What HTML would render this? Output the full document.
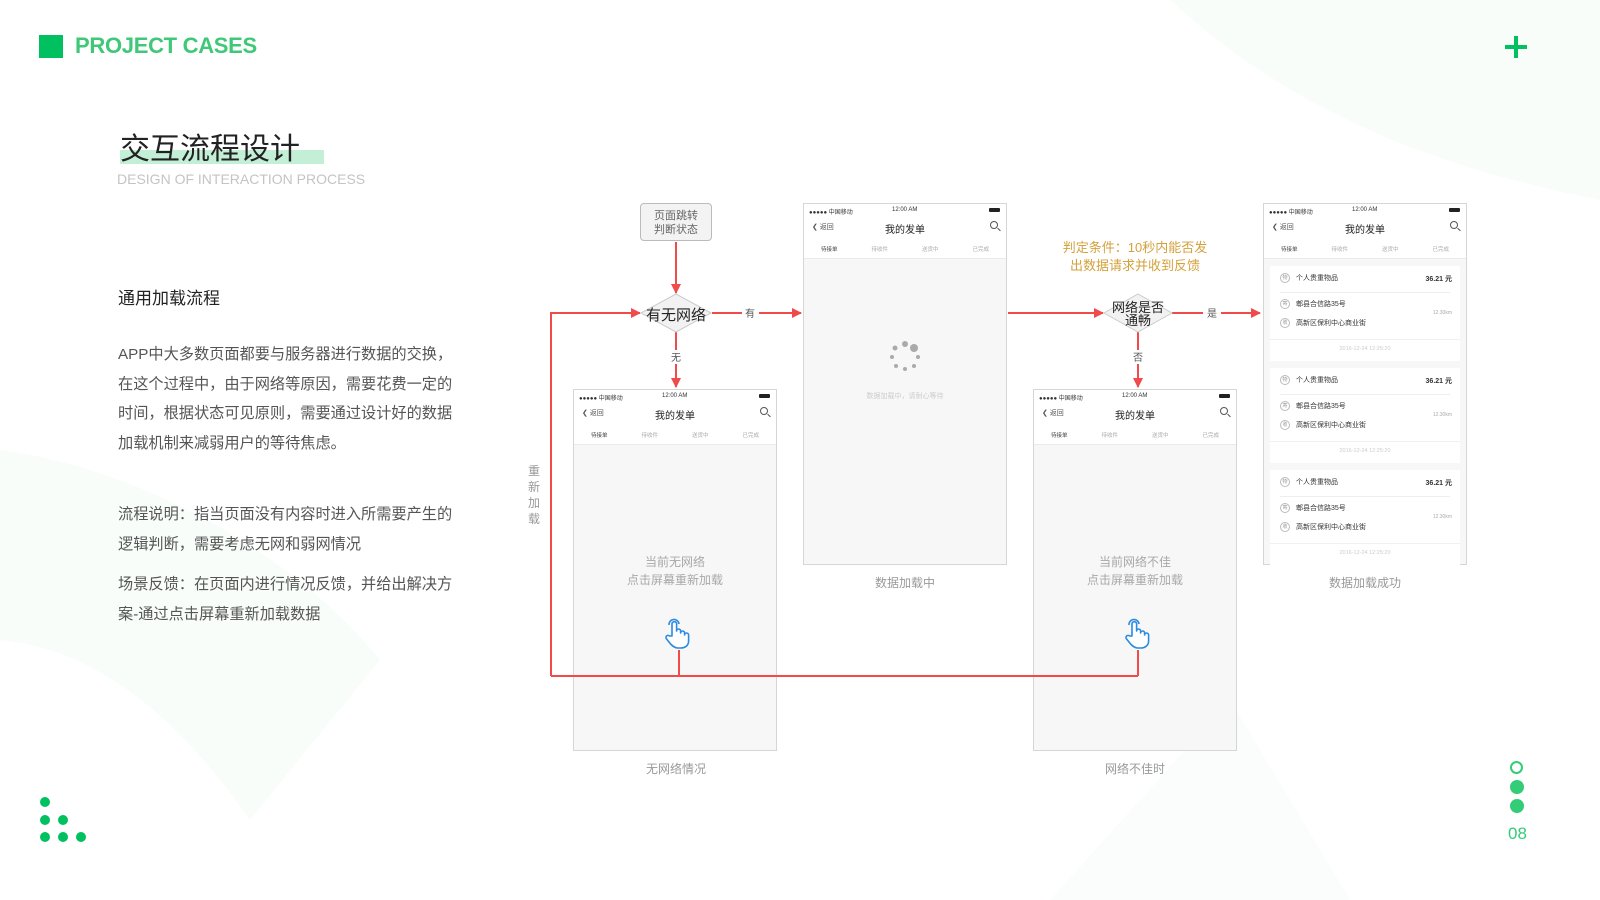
<!DOCTYPE html>
<html><head><meta charset="utf-8">
<style>
*{margin:0;padding:0;box-sizing:border-box}
body{width:1600px;height:900px;overflow:hidden;background:#fff;font-family:"Liberation Sans","Noto Sans CJK SC",sans-serif;position:relative}
.a{position:absolute}
.ph{position:absolute;width:204px;height:362px;border:1px solid #d6d6d6;background:#f7f7f7}
.ph .hd{position:absolute;left:0;top:0;right:0;height:55px;background:#fff;border-bottom:1px solid #eaeaea}
.sb{position:absolute;top:3px;font-size:6px;color:#333;white-space:nowrap}
.nav{position:absolute;top:17px;width:100%;text-align:center;font-size:10px;color:#222}
.back{position:absolute;left:8px;top:18px;font-size:7px;color:#555}
.srch{position:absolute;right:8px;top:17px;width:8px;height:8px;border:1px solid #555;border-radius:50%}
.srch:after{content:"";position:absolute;width:4px;height:1px;background:#555;right:-4px;bottom:-2px;transform:rotate(45deg)}
.tabs{position:absolute;top:41px;left:0;right:0;display:flex;font-size:5.5px;color:#aaa}
.tabs span{flex:1;text-align:center}
.tabs span:first-child{color:#444}
.bat{position:absolute;right:6px;top:4px;width:11px;height:4px;background:#222;border-radius:1px}
.msg{position:absolute;width:100%;text-align:center;color:#a8a8a8;font-size:12px;line-height:18px}
.cap{position:absolute;font-size:12px;color:#999;text-align:center;width:200px}
.card{position:absolute;left:6px;right:6px;height:95px;background:#fff}
.card .r{position:absolute;font-size:7px;color:#333;white-space:nowrap}
.ci{display:inline-block;width:10px;height:10px;border:1px solid #bbb;border-radius:50%;font-size:5px;color:#999;text-align:center;line-height:8px;margin-right:6px;vertical-align:middle}
.body{font-size:15.2px;color:#555;line-height:29.5px}
</style></head><body>
<svg class="a" style="left:0;top:0" width="1600" height="900">
<path d="M0 450 C 150 470 300 560 380 660 L 250 820 C 180 720 100 650 0 640 Z" fill="#f4fbf6" opacity="0.6"/>
<path d="M1170 0 L1600 0 L1600 200 C 1450 170 1300 120 1170 0 Z" fill="#f5fbf7" opacity="0.6"/>
<path d="M1050 900 L1230 700 L1350 900 Z" fill="#f6fbf8" opacity="0.5"/>
</svg>

<div class="a" style="left:39px;top:35px;width:24px;height:23px;background:#00c060"></div>
<div class="a" style="left:75px;top:33px;font-size:22px;font-weight:bold;color:#3ec878;letter-spacing:-0.3px">PROJECT CASES</div>
<div class="a" style="left:1505px;top:45px;width:22px;height:4px;background:#00c060"></div>
<div class="a" style="left:1514px;top:36px;width:4px;height:22px;background:#00c060"></div>

<div class="a" style="left:120px;top:150px;width:204px;height:14px;background:#c4efd7"></div>
<div class="a" style="left:120px;top:130px;font-size:30px;color:#222;line-height:40px">交互流程设计</div>
<div class="a" style="left:117px;top:171px;font-size:14px;color:#c4c4c4">DESIGN OF INTERACTION PROCESS</div>

<div class="a" style="left:118px;top:284px;font-size:17px;color:#222">通用加载流程</div>
<div class="a body" style="left:118px;top:340px;width:370px">APP中大多数页面都要与服务器进行数据的交换，<br>在这个过程中，由于网络等原因，需要花费一定的<br>时间，根据状态可见原则，需要通过设计好的数据<br>加载机制来减弱用户的等待焦虑。</div>
<div class="a body" style="left:118px;top:500px;width:370px">流程说明：指当页面没有内容时进入所需要产生的<br>逻辑判断，需要考虑无网和弱网情况</div>
<div class="a body" style="left:118px;top:570px;width:370px">场景反馈：在页面内进行情况反馈，并给出解决方<br>案-通过点击屏幕重新加载数据</div>

<div class="a" style="left:40px;top:797px;width:10px;height:10px;border-radius:50%;background:#00c060"></div>
<div class="a" style="left:40px;top:815px;width:10px;height:10px;border-radius:50%;background:#00c060"></div>
<div class="a" style="left:58px;top:815px;width:10px;height:10px;border-radius:50%;background:#00c060"></div>
<div class="a" style="left:40px;top:832px;width:10px;height:10px;border-radius:50%;background:#00c060"></div>
<div class="a" style="left:58px;top:832px;width:10px;height:10px;border-radius:50%;background:#00c060"></div>
<div class="a" style="left:76px;top:832px;width:10px;height:10px;border-radius:50%;background:#00c060"></div>
<div class="a" style="left:1510px;top:761px;width:13px;height:13px;border-radius:50%;border:2px solid #33cc77"></div>
<div class="a" style="left:1510px;top:780px;width:14px;height:14px;border-radius:50%;background:#33cc77"></div>
<div class="a" style="left:1510px;top:799px;width:14px;height:14px;border-radius:50%;background:#33cc77"></div>
<div class="a" style="left:1508px;top:824px;font-size:17px;color:#33cc77">08</div>

<div class="ph" style="left:573px;top:389px">
 <div class="hd"><div class="sb" style="left:5px">●●●●● 中国移动</div><div class="sb" style="left:88px">12:00 AM</div><div class="bat"></div>
 <div class="nav">我的发单</div><div class="back">❮ 返回</div><div class="srch"></div>
 <div class="tabs"><span>待接单</span><span>待收件</span><span>送货中</span><span>已完成</span></div></div>
 <div class="msg" style="top:163px">当前无网络<br>点击屏幕重新加载</div>
</div>
<div class="ph" style="left:803px;top:203px">
 <div class="hd"><div class="sb" style="left:5px">●●●●● 中国移动</div><div class="sb" style="left:88px">12:00 AM</div><div class="bat"></div>
 <div class="nav">我的发单</div><div class="back">❮ 返回</div><div class="srch"></div>
 <div class="tabs"><span>待接单</span><span>待收件</span><span>送货中</span><span>已完成</span></div></div>
 <div class="msg" style="top:184px;font-size:7px;color:#ccc">数据加载中，请耐心等待</div>
</div>
<div class="ph" style="left:1033px;top:389px">
 <div class="hd"><div class="sb" style="left:5px">●●●●● 中国移动</div><div class="sb" style="left:88px">12:00 AM</div><div class="bat"></div>
 <div class="nav">我的发单</div><div class="back">❮ 返回</div><div class="srch"></div>
 <div class="tabs"><span>待接单</span><span>待收件</span><span>送货中</span><span>已完成</span></div></div>
 <div class="msg" style="top:163px">当前网络不佳<br>点击屏幕重新加载</div>
</div>
<div class="ph" style="left:1263px;top:203px">
 <div class="hd"><div class="sb" style="left:5px">●●●●● 中国移动</div><div class="sb" style="left:88px">12:00 AM</div><div class="bat"></div>
 <div class="nav">我的发单</div><div class="back">❮ 返回</div><div class="srch"></div>
 <div class="tabs"><span>待接单</span><span>待收件</span><span>送货中</span><span>已完成</span></div></div>
 <div class="card" style="top:62px">
  <div class="r" style="left:10px;top:7px"><span class="ci">物</span>个人贵重物品</div><div class="r" style="right:8px;top:8px;font-weight:bold">36.21 元</div>
  <div class="a" style="left:10px;right:10px;top:26px;height:1px;background:#eee"></div>
  <div class="r" style="left:10px;top:33px"><span class="ci">寄</span>郫县合信路35号</div>
  <div class="r" style="left:10px;top:52px"><span class="ci">收</span>高新区保利中心商业街</div>
  <div class="r" style="right:8px;top:44px;font-size:5px;color:#aaa">12.30km</div>
  <div class="a" style="left:0;right:0;top:73px;height:1px;background:#f0f0f0"></div>
  <div class="r" style="left:0;right:0;top:80px;text-align:center;font-size:5.5px;color:#ccc">2016-12-24 12:25:20</div>
 </div>
 <div class="card" style="top:164px">
  <div class="r" style="left:10px;top:7px"><span class="ci">物</span>个人贵重物品</div><div class="r" style="right:8px;top:8px;font-weight:bold">36.21 元</div>
  <div class="a" style="left:10px;right:10px;top:26px;height:1px;background:#eee"></div>
  <div class="r" style="left:10px;top:33px"><span class="ci">寄</span>郫县合信路35号</div>
  <div class="r" style="left:10px;top:52px"><span class="ci">收</span>高新区保利中心商业街</div>
  <div class="r" style="right:8px;top:44px;font-size:5px;color:#aaa">12.30km</div>
  <div class="a" style="left:0;right:0;top:73px;height:1px;background:#f0f0f0"></div>
  <div class="r" style="left:0;right:0;top:80px;text-align:center;font-size:5.5px;color:#ccc">2016-12-24 12:25:20</div>
 </div>
 <div class="card" style="top:266px">
  <div class="r" style="left:10px;top:7px"><span class="ci">物</span>个人贵重物品</div><div class="r" style="right:8px;top:8px;font-weight:bold">36.21 元</div>
  <div class="a" style="left:10px;right:10px;top:26px;height:1px;background:#eee"></div>
  <div class="r" style="left:10px;top:33px"><span class="ci">寄</span>郫县合信路35号</div>
  <div class="r" style="left:10px;top:52px"><span class="ci">收</span>高新区保利中心商业街</div>
  <div class="r" style="right:8px;top:44px;font-size:5px;color:#aaa">12.30km</div>
  <div class="a" style="left:0;right:0;top:73px;height:1px;background:#f0f0f0"></div>
  <div class="r" style="left:0;right:0;top:80px;text-align:center;font-size:5.5px;color:#ccc">2016-12-24 12:25:20</div>
 </div>
</div>

<div class="cap" style="left:576px;top:760px">无网络情况</div>
<div class="cap" style="left:805px;top:574px">数据加载中</div>
<div class="cap" style="left:1035px;top:760px">网络不佳时</div>
<div class="cap" style="left:1265px;top:574px">数据加载成功</div>

<div class="a" style="left:640px;top:203px;width:72px;height:38px;border:1px solid #bbb;border-radius:4px;background:#f3f3f3;font-size:11px;color:#666;text-align:center;line-height:14px;padding-top:5px">页面跳转<br>判断状态</div>
<div class="a" style="left:1040px;top:239px;width:190px;text-align:center;font-size:13px;color:#d4a23c;line-height:18px">判定条件：10秒内能否发<br>出数据请求并收到反馈</div>
<div class="a" style="left:527px;top:463px;width:14px;font-size:12px;color:#999;line-height:16px;text-align:center">重<br>新<br>加<br>载</div>

<svg class="a" style="left:0;top:0" width="1600" height="900">
<defs><marker id="ar" markerWidth="10" markerHeight="10" refX="9" refY="5" orient="auto" markerUnits="userSpaceOnUse"><path d="M0 0 L10 5 L0 10 Z" fill="#f04a4a"/></marker></defs>
<g stroke="#f04a4a" stroke-width="2" fill="none">
<path d="M676 242 V293" marker-end="url(#ar)"/>
<path d="M551 676 V313 H640" marker-end="url(#ar)"/>
<path d="M712 313 H742 M759 313 H801" marker-end="url(#ar)"/>
<path d="M676 332 V350 M676 364 V387" marker-end="url(#ar)"/>
<path d="M551 676 H1138 M679 650 V676 M1138 650 V676"/>
<path d="M1008 313 H1103" marker-end="url(#ar)"/>
<path d="M1172 313 H1203 M1221 313 H1260" marker-end="url(#ar)"/>
<path d="M1138 332 V350 M1138 364 V387" marker-end="url(#ar)"/>
</g>
<polygon points="676,294 711,313 676,332 641,313" fill="#f2f2f2" stroke="#ccc"/>
<polygon points="1138,294 1172,313 1138,332 1104,313" fill="#f2f2f2" stroke="#ccc"/>
<text x="676" y="320" font-size="15" text-anchor="middle" fill="#222" font-family="Liberation Sans,Noto Sans CJK SC,sans-serif">有无网络</text>
<text x="1138" y="312" font-size="13" text-anchor="middle" fill="#222" font-family="Liberation Sans,Noto Sans CJK SC,sans-serif">网络是否</text>
<text x="1138" y="325" font-size="13" text-anchor="middle" fill="#222" font-family="Liberation Sans,Noto Sans CJK SC,sans-serif">通畅</text>
<g font-size="10" fill="#555" text-anchor="middle" font-family="Liberation Sans,Noto Sans CJK SC,sans-serif">
<text x="750" y="317">有</text><text x="676" y="361">无</text><text x="1212" y="317">是</text><text x="1138" y="361">否</text></g>
<g fill="#aaa">
<circle cx="905" cy="344" r="3"/><circle cx="914" cy="348" r="4"/><circle cx="895" cy="348" r="2.5"/><circle cx="892" cy="357" r="2"/><circle cx="918" cy="357" r="2"/><circle cx="896" cy="366" r="2"/><circle cx="905" cy="369" r="2"/><circle cx="914" cy="366" r="2"/></g>
<g stroke="#2a8be0" stroke-width="1.6" fill="#fff" stroke-linejoin="round">
<path d="M672 636 V624 a2.3 2.3 0 0 1 4.6 0 V631 a2 2 0 0 1 4 0 V633 a2 2 0 0 1 4 0 V635 a2 2 0 0 1 4 0 V641 c0 4 -3 7 -8 7 h-3 c-3 0 -5 -2 -7 -4 l-4 -5 a2 2 0 0 1 3 -3 Z"/>
<path d="M669 625 a5 5 0 0 1 10 -1" fill="none"/>
<path d="M1132 636 V624 a2.3 2.3 0 0 1 4.6 0 V631 a2 2 0 0 1 4 0 V633 a2 2 0 0 1 4 0 V635 a2 2 0 0 1 4 0 V641 c0 4 -3 7 -8 7 h-3 c-3 0 -5 -2 -7 -4 l-4 -5 a2 2 0 0 1 3 -3 Z"/>
<path d="M1129 625 a5 5 0 0 1 10 -1" fill="none"/>
</g>
</svg>
</body></html>
